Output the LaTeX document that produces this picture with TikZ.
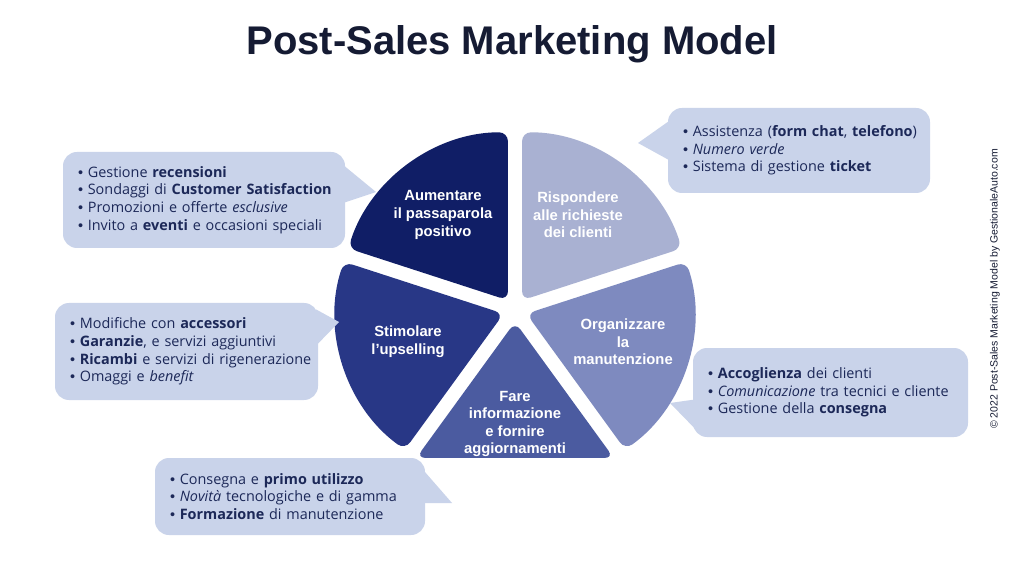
\documentclass[tikz,border=0pt]{standalone}
\usepackage{fontspec}
\setmainfont{Liberation Sans}
\newfontfamily\boxfont{Open Sans}
\usepackage{xcolor}
\usetikzlibrary{positioning}

\definecolor{aumC}{HTML}{101E66}
\definecolor{stimC}{HTML}{283786}
\definecolor{fareC}{HTML}{4B5BA0}
\definecolor{orgC}{HTML}{7E8ABF}
\definecolor{risC}{HTML}{A9B1D2}
\definecolor{boxC}{HTML}{C9D3EA}
\definecolor{txtC}{HTML}{1C2858}
\definecolor{titleC}{HTML}{151B33}

\newcommand{\li}[1]{\mbox{{\rmfamily\textbullet}\ #1}}

\begin{document}
\begin{tikzpicture}[x=1pt,y=1pt,
    callout/.style={fill=boxC, rounded corners=14pt, inner xsep=15pt, inner ysep=0pt,
                    align=left, text=txtC, font=\boxfont\fontsize{14.4}{17.6}\selectfont},
    slicetext/.style={text=white, align=center, font=\bfseries\fontsize{14.8}{17.6}\selectfont}]
    \useasboundingbox[fill=white] (0,0) rectangle (1024,576);

    \node[anchor=base, text=titleC, font=\bfseries\fontsize{40}{40}\selectfont] (title) at (512,521) {Post-Sales Marketing Model};

    % pie
    \coordinate (C) at (515,266);
    \foreach \a/\col in {90/aumC, 162/stimC, 306/orgC, 18/risC}
        \fill[\col, rounded corners=9pt] ([shift={(\a+36:12)}]C) -- ++(\a:168)
            arc[start angle=\a, end angle=\a+72, radius=168] -- cycle;
    \coordinate (Sf) at ([shift={(270:12)}]C);
    \fill[fareC, rounded corners=9pt] (Sf) -- ([shift={(234:168)}]Sf) -- ([shift={(306:168)}]Sf) -- cycle;

    \node[slicetext] (sAum) at (443,361) {Aumentare\\il passaparola\\positivo};
    \node[slicetext] (sRis) at (578,361) {Rispondere\\alle richieste\\dei clienti};
    \node[slicetext] (sOrg) at (623,234) {Organizzare\\la\\manutenzione};
    \node[slicetext] (sFare) at (515,152) {Fare\\informazione\\e fornire\\aggiornamenti};
    \node[slicetext] (sStim) at (408,234) {Stimolare\\l’upselling};

    % callouts
    \node[callout, text width=252pt, minimum height=96pt] (b1) at (204,376)
        {\li{Gestione \textbf{recensioni}}\\
         \li{Sondaggi di \textbf{Customer Satisfaction}}\\
         \li{Promozioni e offerte \textit{esclusive}}\\
         \li{Invito a \textbf{eventi} e occasioni speciali}};
    \node[callout, text width=232pt, minimum height=85pt] (b2) at (799,425.5)
        {\li{Assistenza (\textbf{form chat}, \textbf{telefono})}\\
         \li{\textit{Numero verde}}\\
         \li{Sistema di gestione \textbf{ticket}}};
    \node[callout, text width=233pt, minimum height=97pt] (b3) at (186.5,224.5)
        {\li{Modifiche con \textbf{accessori}}\\
         \li{\textbf{Garanzie}, e servizi aggiuntivi}\\
         \li{\textbf{Ricambi} e servizi di rigenerazione}\\
         \li{Omaggi e \textit{benefit}}};
    \node[callout, text width=245pt, minimum height=89pt] (b4) at (830.5,183.5)
        {\li{\textbf{Accoglienza} dei clienti}\\
         \li{\textit{Comunicazione} tra tecnici e cliente}\\
         \li{Gestione della \textbf{consegna}}};
    \node[callout, text width=240pt, minimum height=77pt] (b5) at (290,79.5)
        {\li{Consegna e \textbf{primo utilizzo}}\\
         \li{\textit{Novità} tecnologiche e di gamma}\\
         \li{\textbf{Formazione} di manutenzione}};

    % tails
    \coordinate (t1) at (376,384);
    \coordinate (t2) at (638,433);
    \coordinate (t3) at (339,254);
    \coordinate (t4) at (670,173);
    \coordinate (t5) at (452,73);
    \fill[boxC] ([shift={(-2,35)}]b1.east) -- (t1) -- ([shift={(-2,-3)}]b1.east) -- cycle;
    \fill[boxC] ([shift={(2,30)}]b2.west) -- (t2) -- ([shift={(2,-10)}]b2.west) -- cycle;
    \fill[boxC] ([shift={(-2,42)}]b3.east) -- (t3) -- ([shift={(-2,6)}]b3.east) -- cycle;
    \fill[boxC] ([shift={(2,-7)}]b4.west) -- (t4) -- ([shift={(2,-36)}]b4.west) -- cycle;
    \fill[boxC] ([shift={(-2,26.5)}]b5.east) -- (t5) -- ([shift={(-2,-6.5)}]b5.east) -- cycle;

    \node[rotate=90, text=titleC, font=\fontsize{10.5}{10.5}\selectfont] (copy) at (995,287)
        {© 2022 Post-Sales Marketing Model by GestionaleAuto.com};
\end{tikzpicture}
\end{document}
